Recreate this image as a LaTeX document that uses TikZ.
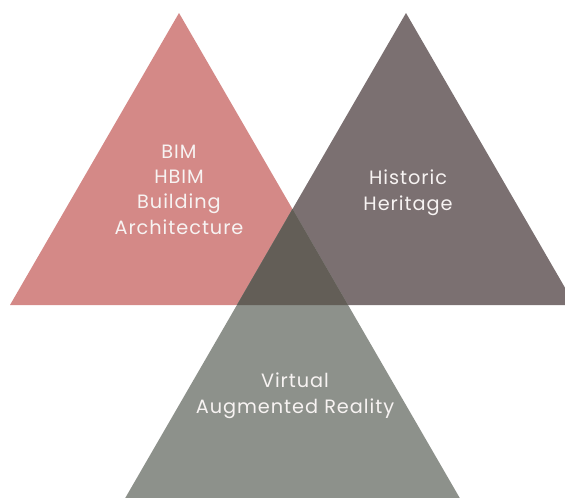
\documentclass[tikz,border=0pt]{standalone}
\usepackage{fontspec}
\setmainfont{Poppins}[LetterSpace=5]
\begin{document}
\definecolor{rosefill}{HTML}{D48987}
\definecolor{mauvefill}{HTML}{7B7071}
\definecolor{sagefill}{HTML}{8D918B}
\definecolor{corefill}{HTML}{635E57}
\definecolor{labeltext}{HTML}{F7F3F2}
\begin{tikzpicture}[x=1pt,y=-1pt,
  label/.style={text=labeltext,font=\fontsize{19.3}{25.3}\selectfont,align=center,inner sep=0pt,anchor=base}]
\useasboundingbox (0,0) rectangle (565,498);
\begin{scope}
\clip (0,0) rectangle (565,498);
% three congruent triangles
\coordinate (pa) at (179,13);  \coordinate (pl) at (10,305);   \coordinate (pr) at (348,305);
\coordinate (ma) at (406,13);  \coordinate (ml) at (237,305);  \coordinate (mr) at (575,305);
\coordinate (ga) at (292.5,209); \coordinate (gl) at (123.5,501); \coordinate (gr) at (461.5,501);
\fill[rosefill] (pa) -- (pl) -- (pr) -- cycle;
\fill[mauvefill] (ma) -- (ml) -- (mr) -- cycle;
\fill[sagefill] (ga) -- (gl) -- (gr) -- cycle;
% region shared by all three
\fill[corefill] (ga) -- (ml) -- (pr) -- cycle;
\end{scope}
% multi-line labels: the base anchor sits on the last line's baseline
\node[label] (bimtext) at (179,234) {BIM\\HBIM\\Building\\Architecture};
\node[label] (heritagetext) at (408,210) {Historic\\Heritage};
\node[label] (realitytext) at (295,413) {Virtual\\Augmented Reality};
\end{tikzpicture}
\end{document}
